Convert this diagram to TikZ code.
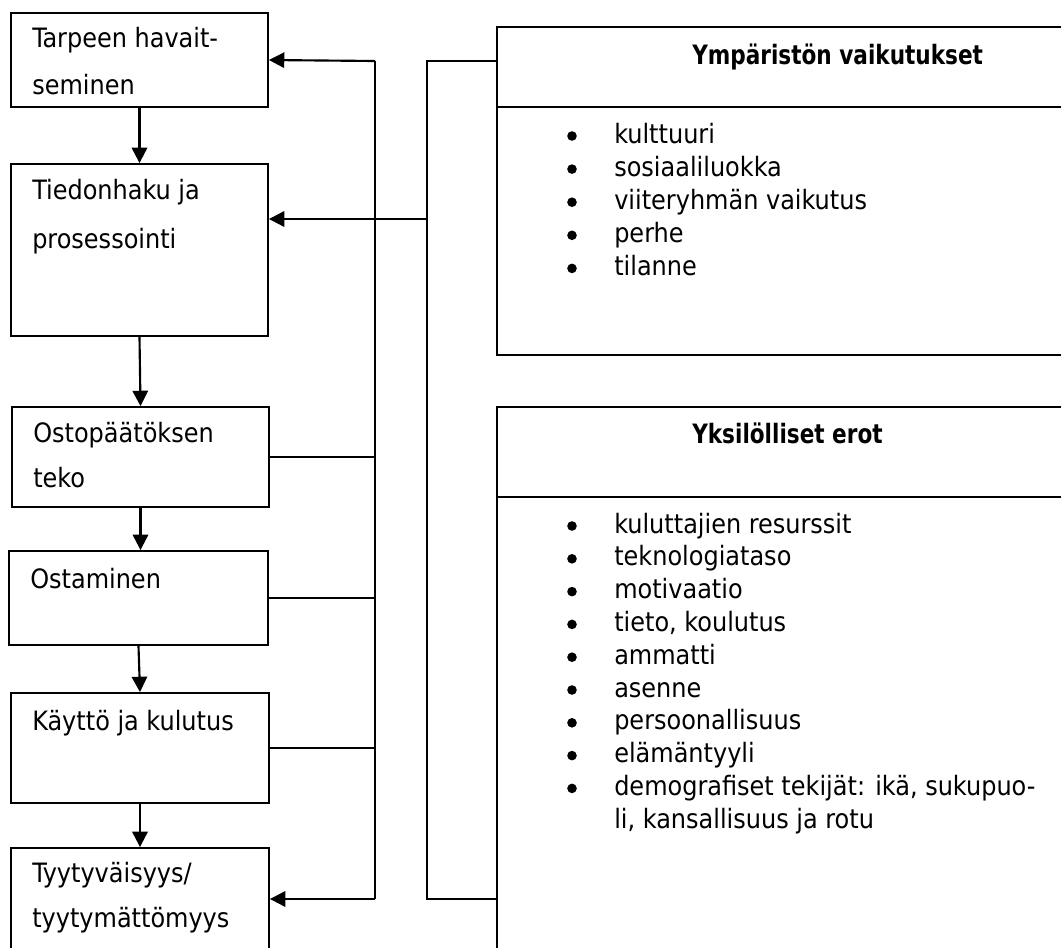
\documentclass[tikz,border=0pt]{standalone}
\usepackage{fontspec}
\IfFontExistsTF{DejaVu Sans Condensed}{\def\basefamily{DejaVu Sans Condensed}}{\def\basefamily{DejaVu Sans}}
\setmainfont{\basefamily}
\newfontfamily\headfamily[FakeStretch=0.9]{\basefamily}
\usetikzlibrary{arrows.meta,fit}
\begin{document}
\begin{tikzpicture}[x=0.75pt,y=-0.75pt,
  stage/.style={draw, line width=1.4pt, inner sep=0pt},
  txt/.style={inner sep=0pt, anchor=base west, font=\fontsize{20}{24}\selectfont},
  head/.style={txt, font=\headfamily\fontsize{20}{24}\selectfont\bfseries},
  flow/.style={line width=1.6pt, -{Triangle[length=11.5pt,width=11.5pt]}},
  bus/.style={line width=1.5pt},
  stub/.style={line width=0.9pt},
  dot/.style={fill=black, draw=none}]
\useasboundingbox (0,0) rectangle (1061,947);
\clip (0,0) rectangle (1061,947);

% process stages
\node[stage, fit={(11,13) (268,107)}] (b1) {};
\node[stage, fit={(11,164) (268,336)}] (b2) {};
\node[stage, fit={(12,407) (269,507)}] (b3) {};
\node[stage, fit={(9,551) (268,645)}] (b4) {};
\node[stage, fit={(11,693) (269,803)}] (b5) {};
\node[stage, fit={(11,848) (269,975)}] (b6) {};

\node[txt] (t1a) at (32,47) {Tarpeen havait-};
\node[txt] (t1b) at (32,94) {seminen};
\node[txt] (t2a) at (32,199) {Tiedonhaku ja};
\node[txt] (t2b) at (32,248) {prosessointi};
\node[txt] (t3a) at (33,442) {Ostopäätöksen};
\node[txt] (t3b) at (33,487) {teko};
\node[txt] (t4a) at (30,588) {Ostaminen};
\node[txt] (t5a) at (32,730) {Käyttö ja kulutus};
\node[txt] (t6a) at (32,882) {Tyytyväisyys/};
\node[txt] (t6b) at (32,927) {tyytymättömyys};

% influence panels
\node[stage, fit={(497,27) (1190,355)}] (env) {};
\node[stage, fit={(497,407) (1190,1000)}] (ind) {};
\draw[line width=1.4pt] (497,107) -- (1190,107);
\draw[line width=1.4pt] (497,497) -- (1190,497);

\node[head] (envh) at (692,64) {Ympäristön vaikutukset};
\node[head] (indh) at (692,443) {Yksilölliset erot};

\foreach \t [count=\i from 0] in {kulttuuri, sosiaaliluokka, viiteryhmän vaikutus, perhe, tilanne}{
  \pgfmathsetmacro{\yy}{143+33.1*\i}
  \fill[dot] (572,\yy-7) circle[radius=4.8];
  \node[txt] (env\i) at (614,\yy) {\t};
}
\foreach \t [count=\i from 0] in {kuluttajien resurssit, teknologiataso, motivaatio, {tieto, koulutus}, ammatti, asenne, persoonallisuus, elämäntyyli, {demografiset tekijät: ikä, sukupuo-}}{
  \pgfmathsetmacro{\yy}{533+32.8*\i}
  \fill[dot] (572,\yy-7) circle[radius=4.8];
  \node[txt] (ind\i) at (614,\yy) {\t};
}
\node[txt] (ind9) at (614,828) {li, kansallisuus ja rotu};

% stage-to-stage arrows
\draw[flow] (b1.south) -- (b2.north);
\draw[flow] (b2.south) -- (b3.north);
\draw[flow] (b3.south) -- (b4.north -| b3.south);
\draw[flow] (b4.south) -- (b5.north);
\draw[flow] (b5.south) -- (b6.north);

% feedback bus
\coordinate (at) at (375,61);
\coordinate (ab) at (375,899);
\draw[bus] (at) -- (ab);
\draw[flow] (at) -- (b1.east);
\draw[flow] (ab) -- (b6.east |- ab);
\draw[stub] (b3.east) -- (b3.east -| at);
\draw[stub] (b4.east) -- (b4.east -| at);
\draw[stub] (b5.east) -- (b5.east -| at);

% influence bus
\coordinate (ct) at (427,61);
\coordinate (cb) at (427,899);
\coordinate (cm) at (427,219);
\draw[stub] (env.west |- ct) -- (ct) -- (cb) -- (ind.west |- cb);
\draw[flow] (cm) -- (b2.east |- cm);
\end{tikzpicture}
\end{document}
